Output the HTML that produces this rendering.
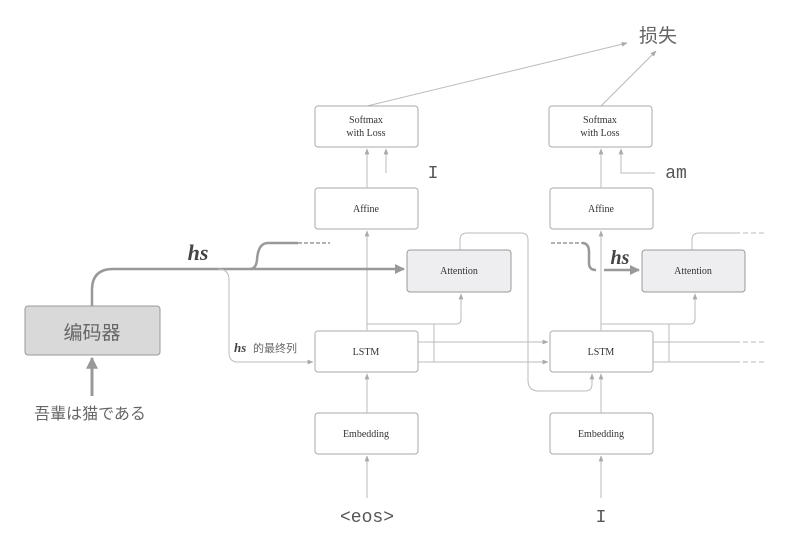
<!DOCTYPE html>
<html><head><meta charset="utf-8"><style>
html,body{margin:0;padding:0;background:#fff;}
svg{display:block}
.b{fill:#fff;stroke:#aaa;stroke-width:1}
.g{fill:#eeeef0;stroke:#999;stroke-width:1}
.t{font-family:"Liberation Serif",serif;font-size:10px;fill:#333;text-anchor:middle}
.l{fill:none;stroke:#bbb;stroke-width:1}
.d{fill:none;stroke:#bbb;stroke-width:1;stroke-dasharray:5,3}
.m{font-family:"Liberation Mono",monospace;font-size:18px;fill:#555;text-anchor:middle}
.c{font-family:"Liberation Sans","Noto Sans CJK SC",sans-serif;fill:#666}
</style></head><body>
<svg width="812" height="552" viewBox="0 0 812 552" xmlns="http://www.w3.org/2000/svg">
<defs>
<marker id="a" viewBox="0 0 10 10" refX="9" refY="5" markerWidth="6" markerHeight="6" orient="auto"><path d="M0,1 L10,5 L0,9z" fill="#aaa"/></marker>
<marker id="A" viewBox="0 0 10 10" refX="9" refY="5" markerWidth="4" markerHeight="4" orient="auto"><path d="M0,0 L10,5 L0,10z" fill="#999"/></marker>
</defs>
<!-- loss -->
<text x="658" y="42" class="c" font-size="19" text-anchor="middle">损失</text>
<path class="l" d="M367,106 L627,43" marker-end="url(#a)"/>
<path class="l" d="M601,106 L656,51" marker-end="url(#a)"/>
<!-- boxes -->
<rect class="b" x="315" y="106" width="103" height="41" rx="3"/>
<text class="t" x="366" y="123">Softmax</text><text class="t" x="366" y="136">with Loss</text>
<rect class="b" x="549" y="106" width="103" height="41" rx="3"/>
<text class="t" x="600" y="123">Softmax</text><text class="t" x="600" y="136">with Loss</text>
<rect class="b" x="315" y="188" width="103" height="41" rx="3"/><text class="t" x="366" y="212">Affine</text>
<rect class="b" x="550" y="188" width="103" height="41" rx="3"/><text class="t" x="601" y="212">Affine</text>
<rect class="g" x="407" y="250" width="104" height="42" rx="3"/><text class="t" x="459" y="274">Attention</text>
<rect class="g" x="642" y="250" width="103" height="42" rx="3"/><text class="t" x="693" y="274">Attention</text>
<rect class="b" x="315" y="331" width="103" height="41" rx="3"/><text class="t" x="366" y="355">LSTM</text>
<rect class="b" x="550" y="331" width="103" height="41" rx="3"/><text class="t" x="601" y="355">LSTM</text>
<rect class="b" x="315" y="413" width="103" height="41" rx="3"/><text class="t" x="366" y="437">Embedding</text>
<rect class="b" x="550" y="413" width="103" height="41" rx="3"/><text class="t" x="601" y="437">Embedding</text>
<rect x="25" y="306" width="135" height="49" rx="3" fill="#d9d9d9" stroke="#999"/>
<text x="92" y="339" class="c" font-size="19" text-anchor="middle">编码器</text>
<!-- texts -->
<text class="m" x="433" y="178">I</text>
<text class="m" x="676" y="178">am</text>
<text class="m" x="367" y="522">&lt;eos&gt;</text>
<text class="m" x="601" y="522">I</text>
<text x="90" y="419" class="c" font-size="16" text-anchor="middle">吾輩は猫である</text>
<!-- encoder input -->
<path d="M92,396 L92,358" stroke="#999" stroke-width="3" fill="none" marker-end="url(#A)"/>
<!-- vertical flows -->
<path class="l" d="M367,498 L367,456" marker-end="url(#a)"/>
<path class="l" d="M601,498 L601,456" marker-end="url(#a)"/>
<path class="l" d="M367,413 L367,374" marker-end="url(#a)"/>
<path class="l" d="M601,413 L601,374" marker-end="url(#a)"/>
<path class="l" d="M367,331 L367,231" marker-end="url(#a)"/>
<path class="l" d="M601,331 L601,231" marker-end="url(#a)"/>
<path class="l" d="M367,188 L367,149" marker-end="url(#a)"/>
<path class="l" d="M601,188 L601,149" marker-end="url(#a)"/>
<path class="l" d="M386,173 L386,149" marker-end="url(#a)"/>
<path class="l" d="M655,173 L621,173 L621,149" marker-end="url(#a)"/>
<!-- LSTM to attention -->
<path class="l" d="M367,324 L456,324 Q461,324 461,319 L461,294" marker-end="url(#a)"/>
<path class="l" d="M434,324 L434,362"/>
<path class="l" d="M601,324 L690,324 Q695,324 695,319 L695,294" marker-end="url(#a)"/>
<path class="l" d="M669,324 L669,362"/>
<!-- LSTM horizontals -->
<path class="l" d="M418,342 L548,342" marker-end="url(#a)"/>
<path class="l" d="M418,362 L548,362" marker-end="url(#a)"/>
<path class="l" d="M653,342 L735,342"/><path class="d" d="M735,342 L767,342"/>
<path class="l" d="M653,362 L735,362"/><path class="d" d="M735,362 L767,362"/>
<!-- attention1 out -->
<path class="l" d="M460,250 L460,240 Q460,233 467,233 L521,233 Q528,233 528,240 L528,380 Q528,391 539,391 L585,391 Q592,391 592,384 L592,374" marker-end="url(#a)"/>
<path class="l" d="M692,250 L692,240 Q692,233 699,233 L735,233"/><path class="d" d="M735,233 L767,233"/>
<!-- hs main -->
<path d="M92,306 L92,290 Q92,269 113,269 L404,269" stroke="#999" stroke-width="2.5" fill="none" marker-end="url(#A)"/>
<path d="M250,269 Q256,269 257,260 Q258,243 268,243 L298,243" stroke="#999" stroke-width="2.5" fill="none"/>
<path d="M298,243 L330,243" stroke="#999" stroke-width="1.5" stroke-dasharray="4,2" fill="none"/>
<path class="l" d="M218,269 Q229,269 229,280 L229,353 Q229,362 238,362 L313,362" marker-end="url(#a)"/>
<text x="198" y="260" font-family="Liberation Serif,serif" font-style="italic" font-weight="bold" font-size="22" fill="#444" text-anchor="middle">hs</text>
<text x="234" y="352" font-family="Liberation Serif,serif" font-style="italic" font-weight="bold" font-size="13" fill="#444">hs</text>
<text x="253" y="352" class="c" font-size="11">的最终列</text>
<!-- hs right -->
<path d="M551,243 L582,243" stroke="#999" stroke-width="1.5" stroke-dasharray="4,2" fill="none"/>
<path d="M582,243 Q589,243 589,252 L589,263 Q589,270 596,270" stroke="#999" stroke-width="2.5" fill="none"/>
<path d="M604,270 L639,270" stroke="#999" stroke-width="2.5" fill="none" marker-end="url(#A)"/>
<text x="620" y="264" font-family="Liberation Serif,serif" font-style="italic" font-weight="bold" font-size="20" fill="#444" text-anchor="middle">hs</text>
</svg>
</body></html>
